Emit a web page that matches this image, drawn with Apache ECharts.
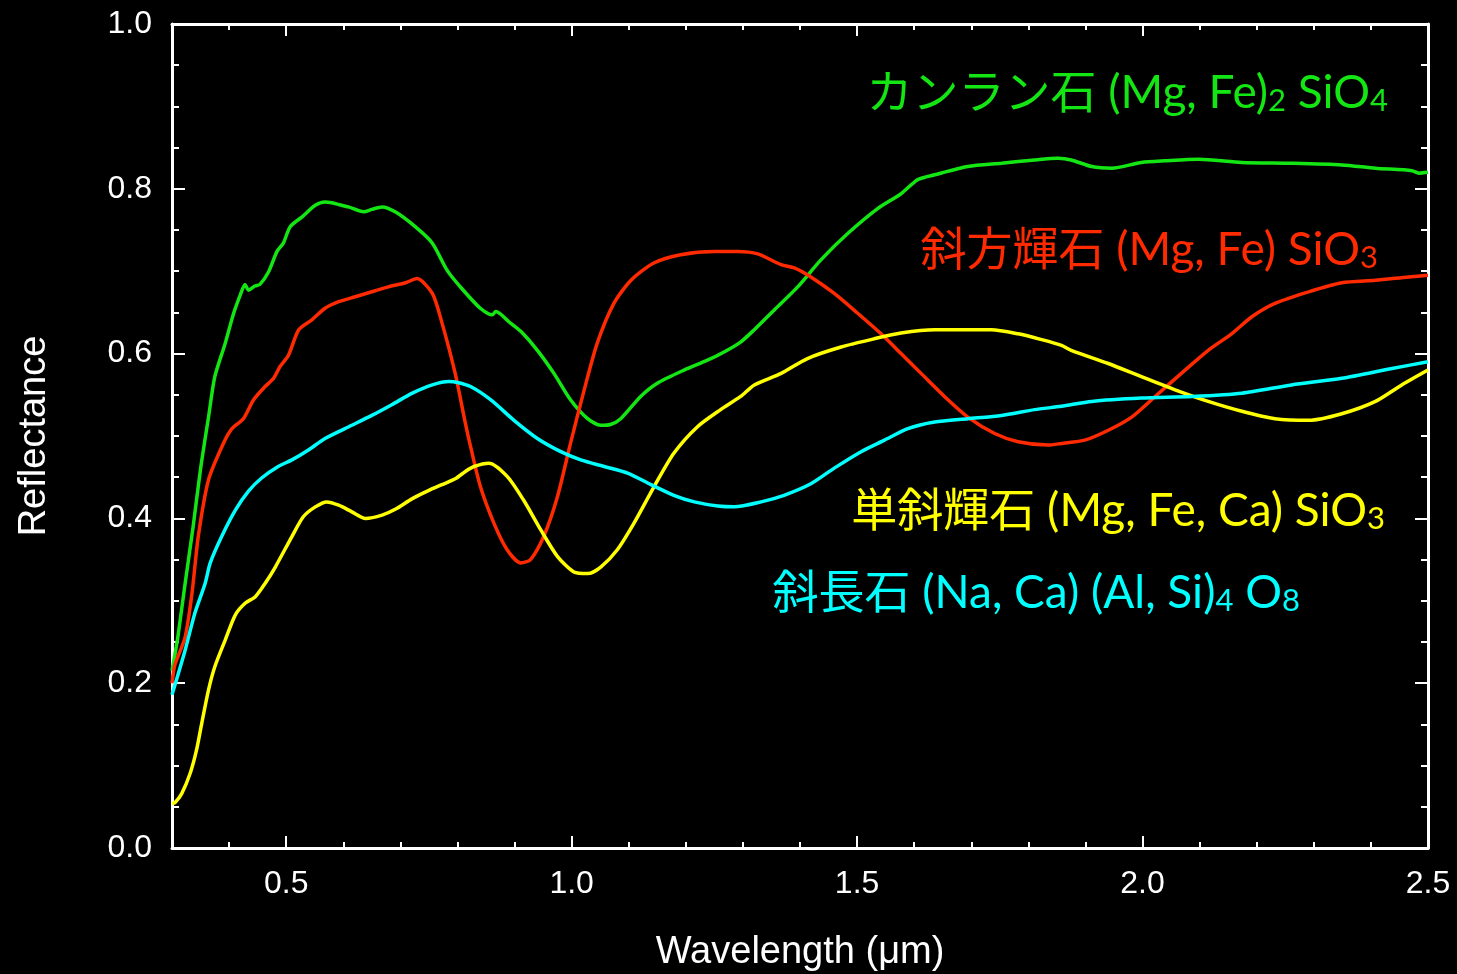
<!DOCTYPE html>
<html><head><meta charset="utf-8">
<script src="https://cdn.jsdelivr.net/npm/echarts@6/dist/echarts.min.js"></script>
<style>html,body{margin:0;padding:0;background:#000;overflow:hidden;}#c{width:1457px;height:974px;}</style>
</head><body><div id="c"></div>
<script>
// ---- data (wavelength in µm, reflectance) ----
const olivineWl = [0.300,0.310,0.323,0.337,0.350,0.364,0.375,0.393,0.408,0.420,0.428,0.434,0.445,0.454,0.469,0.484,0.495,0.507,0.528,0.551,0.568,0.580,0.592,0.609,0.636,0.650,0.668,0.691,0.726,0.756,0.782,0.805,0.840,0.861,0.867,0.893,0.911,0.940,0.969,0.998,1.028,1.051,1.068,1.086,1.121,1.150,1.197,1.238,1.267,1.296,1.320,1.355,1.396,1.437,1.484,1.536,1.577,1.606,1.636,1.694,1.753,1.811,1.852,1.875,1.911,1.946,1.998,2.039,2.098,2.174,2.261,2.349,2.408,2.472,2.484,2.500];
const olivineR  = [0.215,0.255,0.321,0.390,0.460,0.523,0.572,0.612,0.649,0.672,0.684,0.677,0.682,0.684,0.699,0.724,0.734,0.754,0.766,0.780,0.784,0.783,0.781,0.778,0.772,0.775,0.778,0.772,0.754,0.734,0.701,0.681,0.655,0.647,0.651,0.637,0.627,0.604,0.576,0.544,0.521,0.513,0.514,0.521,0.548,0.564,0.580,0.592,0.602,0.614,0.629,0.653,0.681,0.714,0.746,0.776,0.794,0.811,0.817,0.827,0.831,0.835,0.837,0.835,0.827,0.825,0.832,0.834,0.836,0.832,0.831,0.829,0.825,0.822,0.819,0.820];

const orthoWl = [0.300,0.305,0.323,0.335,0.346,0.364,0.390,0.405,0.425,0.443,0.463,0.478,0.489,0.504,0.522,0.545,0.568,0.592,0.621,0.650,0.679,0.709,0.729,0.756,0.773,0.796,0.814,0.823,0.840,0.864,0.887,0.911,0.928,0.951,0.975,0.998,1.022,1.045,1.074,1.104,1.144,1.191,1.250,1.291,1.326,1.367,1.390,1.419,1.460,1.501,1.542,1.577,1.612,1.653,1.694,1.741,1.782,1.834,1.858,1.899,1.940,1.981,2.022,2.068,2.115,2.156,2.192,2.232,2.291,2.349,2.408,2.466,2.500];
const orthoR  = [0.200,0.222,0.256,0.309,0.378,0.447,0.491,0.509,0.521,0.544,0.560,0.570,0.584,0.598,0.629,0.641,0.655,0.663,0.669,0.675,0.681,0.686,0.691,0.673,0.637,0.576,0.515,0.487,0.439,0.394,0.362,0.346,0.350,0.378,0.426,0.491,0.556,0.613,0.661,0.689,0.710,0.720,0.724,0.724,0.721,0.708,0.704,0.693,0.673,0.649,0.624,0.600,0.576,0.548,0.523,0.503,0.493,0.489,0.491,0.495,0.507,0.523,0.548,0.576,0.604,0.624,0.645,0.661,0.675,0.686,0.689,0.693,0.695];

const clinoWl = [0.300,0.305,0.317,0.332,0.343,0.352,0.364,0.375,0.393,0.411,0.428,0.446,0.463,0.481,0.510,0.530,0.551,0.571,0.592,0.615,0.639,0.668,0.691,0.721,0.750,0.773,0.796,0.814,0.829,0.855,0.887,0.916,0.946,0.975,1.004,1.028,1.051,1.080,1.109,1.144,1.179,1.220,1.261,1.296,1.320,1.367,1.413,1.472,1.530,1.577,1.636,1.694,1.735,1.782,1.823,1.858,1.875,1.940,1.998,2.057,2.115,2.174,2.232,2.291,2.349,2.408,2.454,2.500];
const clinoR  = [0.054,0.055,0.066,0.091,0.119,0.151,0.192,0.220,0.252,0.283,0.297,0.305,0.321,0.341,0.378,0.402,0.414,0.420,0.416,0.408,0.400,0.404,0.411,0.424,0.434,0.441,0.448,0.457,0.463,0.467,0.451,0.422,0.386,0.354,0.335,0.333,0.341,0.362,0.394,0.438,0.479,0.511,0.532,0.548,0.562,0.576,0.594,0.608,0.618,0.625,0.629,0.629,0.629,0.624,0.617,0.610,0.604,0.588,0.572,0.556,0.542,0.530,0.521,0.519,0.527,0.542,0.562,0.580];

const plagWl = [0.300,0.323,0.340,0.358,0.367,0.387,0.411,0.434,0.457,0.486,0.510,0.539,0.568,0.615,0.650,0.685,0.721,0.756,0.785,0.800,0.823,0.858,0.899,0.940,0.981,1.016,1.057,1.098,1.139,1.179,1.215,1.256,1.285,1.332,1.372,1.419,1.460,1.507,1.548,1.589,1.636,1.694,1.753,1.811,1.858,1.911,1.998,2.086,2.174,2.261,2.349,2.437,2.500];
const plagR  = [0.186,0.240,0.285,0.321,0.346,0.378,0.410,0.433,0.449,0.463,0.471,0.483,0.497,0.513,0.525,0.538,0.552,0.562,0.566,0.565,0.560,0.544,0.519,0.497,0.481,0.471,0.463,0.455,0.441,0.428,0.420,0.415,0.414,0.420,0.428,0.442,0.461,0.481,0.495,0.509,0.517,0.521,0.525,0.532,0.536,0.542,0.546,0.548,0.552,0.562,0.570,0.582,0.590];

// ---- tick values ----
const xLabelValues = [0.5, 1.0, 1.5, 2.0, 2.5];
const xMinorValues = [0.4,0.6,0.7,0.8,0.9,1.1,1.2,1.3,1.4,1.6,1.7,1.8,1.9,2.1,2.2,2.3,2.4];
const yLabelValues = [0.0, 0.2, 0.4, 0.6, 0.8, 1.0];

const zip = (a, b) => a.map((v, i) => [v, b[i]]);

const C_GREEN = '#14e614', C_RED = '#ff2a00', C_YELLOW = '#ffff00', C_CYAN = '#00ffff';
const axisFont = '"Liberation Sans", Arial, sans-serif';
const noteFont = 'Lato, "Noto Sans CJK JP", sans-serif';

function xAx(pos, ticks, len, line, labels, extra) {
  return Object.assign({
    type: 'value', position: pos, min: 0.3, max: 2.5,
    axisLine: { show: line, onZero: false, lineStyle: { color: '#fff', width: 3 } },
    axisTick: { show: true, inside: true, length: len, customValues: ticks, lineStyle: { color: '#fff', width: 2 } },
    axisLabel: labels ? { show: true, customValues: xLabelValues, formatter: v => v.toFixed(1), color: '#fff', fontSize: 32, fontFamily: axisFont, margin: 20 } : { show: false },
    splitLine: { show: false }
  }, extra || {});
}
function yAx(pos, labels, extra) {
  return Object.assign({
    type: 'value', position: pos, min: 0, max: 1, interval: 0.2,
    axisLine: { show: true, onZero: false, lineStyle: { color: '#fff', width: 3 } },
    axisTick: { show: true, inside: true, length: 13, lineStyle: { color: '#fff', width: 2 } },
    minorTick: { show: true, splitNumber: 4, length: 7, lineStyle: { color: '#fff', width: 2 } },
    axisLabel: labels ? { show: true, formatter: v => v.toFixed(1), color: '#fff', fontSize: 32, fontFamily: axisFont, margin: 20 } : { show: false },
    splitLine: { show: false }, minorSplitLine: { show: false }
  }, extra || {});
}

function note(text, color, right, midY) {
  return {
    type: 'text', x: right, y: midY, z: 100,
    style: {
      text: text, fill: color, align: 'right', verticalAlign: 'middle',
      fontSize: 46, fontFamily: noteFont,
      rich: {
        a: { fill: color, fontSize: 46, fontFamily: noteFont, verticalAlign: 'bottom', lineHeight: 56 },
        s: { fill: color, fontSize: 31, fontFamily: noteFont, verticalAlign: 'bottom', lineHeight: 44 }
      }
    }
  };
}

const chart = echarts.init(document.getElementById('c'));
const lineSeries = (name, wl, r, color) => ({
  name, type: 'line', data: zip(wl, r), showSymbol: false, smooth: 0.25,
  lineStyle: { color, width: 3.5 }, itemStyle: { color }, xAxisIndex: 0, yAxisIndex: 0, animation: false
});

chart.setOption({
  backgroundColor: '#000',
  animation: false,
  grid: { left: 172, right: 29, top: 24, bottom: 126, containLabel: false, outerBoundsMode: 'none' },
  xAxis: [
    xAx('bottom', xLabelValues, 12, true, true, {
      name: 'Wavelength (μm)', nameLocation: 'middle', nameGap: 86,
      nameTextStyle: { color: '#fff', fontSize: 38, fontFamily: axisFont }
    }),
    xAx('bottom', xMinorValues, 6, false, false),
    xAx('top', xLabelValues, 12, true, false),
    xAx('top', xMinorValues, 6, false, false)
  ],
  yAxis: [
    yAx('left', true, {
      name: 'Reflectance', nameLocation: 'middle', nameGap: 118,
      nameTextStyle: { color: '#fff', fontSize: 38, fontFamily: axisFont }
    }),
    yAx('right', false)
  ],
  series: [
    lineSeries('カンラン石', olivineWl, olivineR, C_GREEN),
    lineSeries('斜方輝石', orthoWl, orthoR, C_RED),
    lineSeries('単斜輝石', clinoWl, clinoR, C_YELLOW),
    lineSeries('斜長石', plagWl, plagR, C_CYAN)
  ],
  graphic: [
    note('{a|カンラン石 (Mg, Fe)}{s|2}{a| SiO}{s|4}', C_GREEN, 1388, 88),
    note('{a|斜方輝石 (Mg, Fe) SiO}{s|3}', C_RED, 1378, 245),
    note('{a|単斜輝石 (Mg, Fe, Ca) SiO}{s|3}', C_YELLOW, 1385, 506),
    note('{a|斜長石 (Na, Ca) (Al, Si)}{s|4}{a| O}{s|8}', C_CYAN, 1300, 588)
  ]
});
</script>
</body></html>
